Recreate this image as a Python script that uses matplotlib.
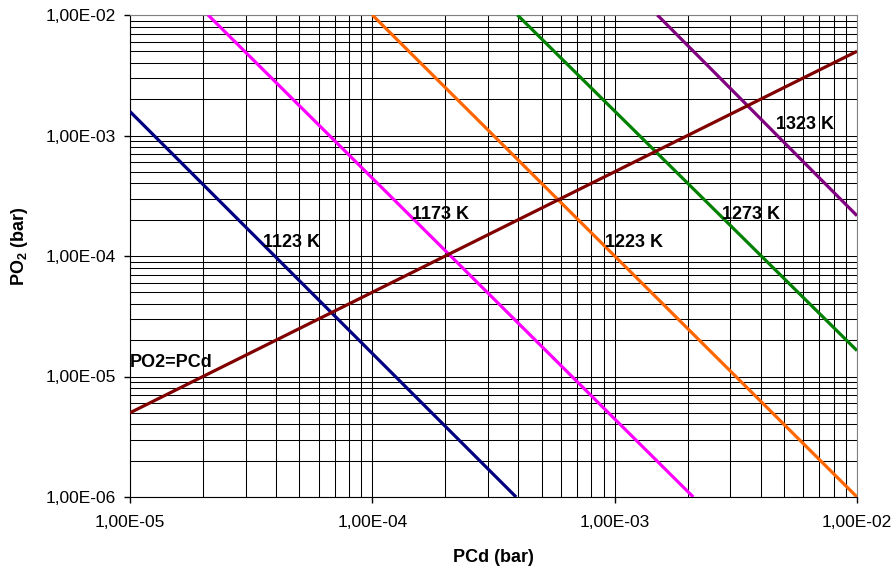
import numpy as np
import matplotlib
matplotlib.use("Agg")
import matplotlib.pyplot as plt
import matplotlib.ticker as mticker

plt.rcParams['font.family'] = ['Liberation Sans', 'DejaVu Sans']
plt.rcParams['mathtext.fontset'] = 'custom'
plt.rcParams['mathtext.rm'] = 'Liberation Sans'
plt.rcParams['mathtext.bf'] = 'Liberation Sans:bold'
plt.rcParams['mathtext.default'] = 'bf'

# isotherms: PO2 vs PCd, end points
temps = ["1123 K", "1173 K", "1223 K", "1273 K", "1323 K"]
pcd_a = [1.0e-5, 2.1e-5, 1.0e-4, 3.97e-4, 1.5e-3]
po2_a = [1.58e-3, 1.0e-2, 1.0e-2, 1.0e-2, 1.0e-2]
pcd_b = [3.92e-4, 2.11e-3, 1.0e-2, 1.0e-2, 1.0e-2]
po2_b = [1.0e-6, 1.0e-6, 1.0e-6, 1.64e-5, 2.16e-4]
colors = ["#000080", "#FF00FF", "#FF6600", "#008000", "#800080"]

# PO2 = PCd line
eq_pcd = [1.0e-5, 1.0e-2]
eq_po2 = [5.0e-6, 5.0e-3]

# label anchor points (left, centre)
lab_x = [3.54e-5, 1.455e-4, 9.13e-4, 2.77e-3, 4.63e-3]
lab_y = [1.29e-4, 2.23e-4, 1.30e-4, 2.23e-4, 1.245e-3]
eq_lab = (1.0e-5, 1.30e-5)

fig = plt.figure(figsize=(8.96, 5.70), dpi=100)
ax = fig.add_axes([130/896, 1-497/570, 727/896, 482/570])

ax.set_xscale("log")
ax.set_yscale("log")
ax.set_xlim(1e-5, 1e-2)
ax.set_ylim(1e-6, 1e-2)

ax.grid(True, which="both", color="black", linewidth=0.75)
ax.set_axisbelow(True)

for i in range(len(temps)):
    ax.plot([pcd_a[i], pcd_b[i]], [po2_a[i], po2_b[i]], color=colors[i],
            linewidth=2.3, solid_capstyle="butt", zorder=3)
    ax.text(lab_x[i], lab_y[i], temps[i], fontsize=13, fontweight="bold",
            ha="left", va="center", zorder=4)

ax.plot(eq_pcd, eq_po2, color="#800000", linewidth=2.3,
        solid_capstyle="butt", zorder=3)
ax.text(eq_lab[0], eq_lab[1], "PO2=PCd", fontsize=13, fontweight="bold",
        ha="left", va="center", zorder=4)

fmt = mticker.FuncFormatter(lambda v, p: f"{v:.2E}".replace(".", ","))
ax.xaxis.set_major_formatter(fmt)
ax.yaxis.set_major_formatter(fmt)
ax.xaxis.set_minor_formatter(mticker.NullFormatter())
ax.yaxis.set_minor_formatter(mticker.NullFormatter())
ax.xaxis.set_major_locator(mticker.LogLocator(base=10, numticks=10))
ax.yaxis.set_major_locator(mticker.LogLocator(base=10, numticks=10))
ax.xaxis.set_minor_locator(mticker.LogLocator(base=10, subs=np.arange(2, 10), numticks=20))
ax.yaxis.set_minor_locator(mticker.LogLocator(base=10, subs=np.arange(2, 10), numticks=20))

ax.tick_params(which="major", direction="out", length=4, width=1, labelsize=12.5,
               color="black")
ax.tick_params(axis="y", which="major", pad=6)
ax.tick_params(axis="x", which="major", pad=9)
ax.tick_params(which="minor", length=0)

for s in ["top", "right"]:
    ax.spines[s].set_color("#808080")
for s in ["left", "bottom"]:
    ax.spines[s].set_color("black")

fig.text(493/896, 1-557/570, "PCd (bar)", fontsize=13, fontweight="bold",
         ha="center", va="center")
fig.text(20/896, 1-246/570, r"PO$_2$ (bar)", fontsize=13, fontweight="bold",
         ha="center", va="center", rotation=90)

fig.savefig("out.png", dpi=100)
